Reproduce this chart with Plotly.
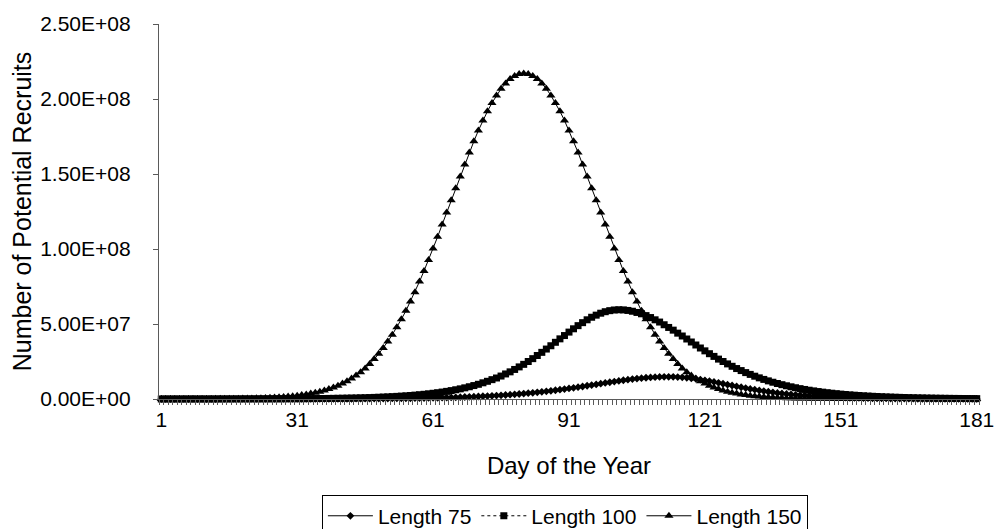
import plotly.graph_objects as go

# Day of the year (categories)
days = list(range(1, 182))

# Number of potential recruits, in millions (days 1..181)
length_75 = [
    0.01, 0.01, 0.01, 0.01, 0.01, 0.01, 0.01, 0.01, 0.01, 0.01, 0.01, 0.01, 0.01, 0.02, 0.02, 0.02, 0.02, 0.02, 0.02, 0.02,
    0.03, 0.03, 0.03, 0.03, 0.04, 0.04, 0.04, 0.05, 0.05, 0.06, 0.06, 0.07, 0.07, 0.08, 0.09, 0.1, 0.1, 0.11, 0.12, 0.13,
    0.15, 0.16, 0.17, 0.19, 0.2, 0.22, 0.24, 0.26, 0.28, 0.31, 0.33, 0.36, 0.39, 0.43, 0.46, 0.5, 0.55, 0.59, 0.64, 0.7,
    0.76, 0.82, 0.89, 0.97, 1.05, 1.13, 1.23, 1.33, 1.44, 1.56, 1.68, 1.82, 1.97, 2.13, 2.3, 2.48, 2.67, 2.88, 3.11, 3.34,
    3.6, 3.86, 4.15, 4.45, 4.77, 5.11, 5.46, 5.83, 6.22, 6.6, 7.02, 7.45, 7.88, 8.34, 8.83, 9.28, 9.75, 10.23, 10.71, 11.18,
    11.64, 12.08, 12.5, 12.9, 13.27, 13.61, 13.91, 14.18, 14.4, 14.57, 14.7, 14.77, 14.8,
    14.76, 14.64, 14.44, 14.16, 13.82, 13.42, 12.96, 12.46, 11.92, 11.36, 10.78, 10.18, 9.58, 8.99, 8.4, 7.82, 7.26, 6.73, 6.21, 5.73,
    5.27, 4.84, 4.44, 4.06, 3.71, 3.38, 3.08, 2.8, 2.55, 2.32, 2.1, 1.9, 1.72, 1.56, 1.41, 1.27, 1.15, 1.04, 0.94, 0.85,
    0.77, 0.69, 0.62, 0.56, 0.51, 0.46, 0.41, 0.37, 0.34, 0.3, 0.27, 0.25, 0.22, 0.2, 0.18, 0.16, 0.15, 0.13, 0.12, 0.11,
    0.1, 0.09, 0.08, 0.07, 0.06, 0.06, 0.05, 0.05,
]

length_100 = [
    0.01, 0.01, 0.01, 0.01, 0.01, 0.01, 0.02, 0.02, 0.02, 0.02, 0.02, 0.03, 0.03, 0.03, 0.04, 0.04, 0.05, 0.05, 0.06, 0.06,
    0.07, 0.08, 0.09, 0.1, 0.11, 0.12, 0.13, 0.14, 0.16, 0.18, 0.19, 0.21, 0.24, 0.26, 0.29, 0.32, 0.35, 0.39, 0.43, 0.48,
    0.53, 0.58, 0.65, 0.71, 0.79, 0.87, 0.96, 1.06, 1.17, 1.3, 1.43, 1.58, 1.75, 1.93, 2.13, 2.35, 2.59, 2.85, 3.14, 3.46,
    3.82, 4.2, 4.63, 5.09, 5.6, 6.16, 6.77, 7.44, 8.17, 8.96, 9.8, 10.8, 11.8, 12.9, 14.0, 15.3, 16.7, 18.1, 19.7, 21.4,
    23.1, 25.0, 26.9, 29.0, 31.1, 33.3, 35.5, 37.8, 40.1, 42.3, 44.6, 46.8, 48.9, 50.9, 52.8, 54.5, 55.9, 57.2, 58.2, 58.9,
    59.35, 59.5,
    59.4, 59.05, 58.5, 57.7, 56.8, 55.6, 54.3, 52.8, 51.3, 49.5, 47.7, 45.9, 43.9, 42.0, 40.0, 38.0, 36.0, 34.0, 32.1, 30.2,
    28.4, 26.6, 25.0, 23.4, 21.8, 20.3, 18.95, 17.6, 16.4, 15.2, 14.1, 13.06, 12.09, 11.18, 10.33, 9.55, 8.81, 8.13, 7.5, 6.91,
    6.36, 5.86, 5.4, 4.97, 4.57, 4.2, 3.86, 3.55, 3.26, 3.0, 2.76, 2.54, 2.33, 2.14, 1.97, 1.81, 1.66, 1.53, 1.4, 1.29,
    1.18, 1.09, 1.0, 0.92, 0.84, 0.77, 0.71, 0.65, 0.6, 0.55, 0.5, 0.46, 0.42, 0.39, 0.36, 0.33, 0.3, 0.28, 0.25,
]

length_150 = [
    0.01, 0.01, 0.02, 0.02, 0.02, 0.03, 0.03, 0.04, 0.05, 0.06, 0.07, 0.08, 0.1, 0.12, 0.14, 0.17, 0.2, 0.24, 0.29, 0.34,
    0.41, 0.49, 0.58, 0.69, 0.82, 0.97, 1.15, 1.35, 1.6, 1.9, 2.2, 2.6, 3.0, 3.6, 4.2, 4.9, 5.7, 6.6, 7.7, 8.9,
    10.3, 11.8, 13.6, 15.6, 17.9, 20.4, 23.3, 26.6, 30.1, 34.0, 38.3, 42.9, 47.8, 53.2, 58.8, 65.0, 71.2, 78.3, 85.4, 92.7,
    100.4, 108.1, 116.3, 124.3, 132.5, 140.5, 148.4, 156.3, 164.4, 171.8, 179.0, 185.7, 191.8, 197.4, 202.4, 206.8, 210.4, 213.3, 215.3, 216.6,
    217.0,
    216.6, 215.3, 213.3, 210.4, 206.8, 202.4, 197.4, 191.8, 185.7, 179.0, 171.8, 164.4, 156.3, 148.4, 140.5, 132.5, 124.3, 116.3, 108.1, 100.4,
    92.7, 85.4, 78.3, 71.2, 65.0, 58.8, 53.2, 47.8, 42.9, 38.3, 34.0, 30.1, 26.6, 23.3, 20.4, 17.9, 15.6, 13.6, 11.8, 10.3,
    8.9, 7.7, 6.6, 5.7, 4.9, 4.2, 3.6, 3.0, 2.6, 2.2, 1.9, 1.6, 1.35, 1.15, 0.97, 0.82, 0.69, 0.58, 0.49, 0.41,
    0.34, 0.29, 0.24, 0.2, 0.17, 0.14, 0.12, 0.1, 0.08, 0.07, 0.06, 0.05, 0.04, 0.03, 0.03, 0.02, 0.02, 0.02, 0.01, 0.01,
    0.01, 0.01, 0.01, 0.01, 0, 0, 0, 0, 0, 0, 0, 0, 0, 0, 0, 0, 0, 0, 0, 0,
]

series_names = ["Length 75", "Length 100", "Length 150"]

x_tick_vals = [1, 31, 61, 91, 121, 151, 181]
x_tick_text = ["1", "31", "61", "91", "121", "151", "181"]
y_tick_vals = [0, 5e7, 1e8, 1.5e8, 2e8, 2.5e8]
y_tick_text = ["0.00E+00", "5.00E+07", "1.00E+08", "1.50E+08", "2.00E+08", "2.50E+08"]

for s in (length_75, length_100, length_150):
    assert len(s) == len(days)

FONT = "Liberation Sans, Arial, sans-serif"
AXIS_COLOR = "#5a5a5a"

styles = [
    dict(symbol="diamond", size=6, dash="solid"),
    dict(symbol="square", size=7, dash="dot"),
    dict(symbol="triangle-up", size=8, dash="solid"),
]

fig = go.Figure()
for name, vals, st in zip(series_names, (length_75, length_100, length_150), styles):
    fig.add_trace(go.Scatter(
        x=days,
        y=[v * 1e6 for v in vals],
        name=name,
        mode="lines+markers",
        line=dict(color="black", width=1, dash=st["dash"]),
        marker=dict(symbol=st["symbol"], size=st["size"], color="black",
                    line=dict(width=0)),
        cliponaxis=False,
    ))

fig.update_layout(
    width=995, height=529,
    margin=dict(l=159, r=16, t=24, b=130, autoexpand=False),
    paper_bgcolor="white", plot_bgcolor="white",
    font=dict(family=FONT, size=21, color="black"),
    showlegend=True,
    legend=dict(
        orientation="h",
        x=0.495, xanchor="center",
        y=-0.255, yanchor="top",
        bordercolor="black", borderwidth=1,
        bgcolor="white",
        font=dict(family=FONT, size=21, color="black"),
        itemwidth=45,
    ),
)

fig.update_xaxes(
    range=[0.5, 181.5], automargin=False,
    tickmode="array", tickvals=x_tick_vals, ticktext=x_tick_text,
    ticks="", ticklabelstandoff=2,
    tickfont=dict(family=FONT, size=21, color="black"),
    showline=True, linecolor=AXIS_COLOR, linewidth=1.3,
    showgrid=False, zeroline=False,
    minor=dict(tick0=0.5, dtick=1, ticks="outside", ticklen=5,
               tickcolor=AXIS_COLOR, tickwidth=1, showgrid=False),
    title=dict(text="Day of the Year", font=dict(family=FONT, size=24, color="black"),
               standoff=26),
)

fig.update_yaxes(
    range=[0, 2.5e8], automargin=False,
    tickmode="array", tickvals=y_tick_vals, ticktext=y_tick_text,
    ticks="outside", ticklen=5, tickcolor=AXIS_COLOR, tickwidth=1.3,
    ticklabelstandoff=18,
    tickfont=dict(family=FONT, size=21, color="black"),
    showline=True, linecolor=AXIS_COLOR, linewidth=1.3,
    showgrid=False, zeroline=False,
    title=dict(text="Number of Potential Recruits",
               font=dict(family=FONT, size=25, color="black"), standoff=1),
)

# remove the default page margin so the 995x529 figure fills the window exactly
fig.write_html(
    "out.html",
    config={"displayModeBar": False},
    post_script="document.body.style.margin='0';document.body.style.overflow='hidden';",
)
